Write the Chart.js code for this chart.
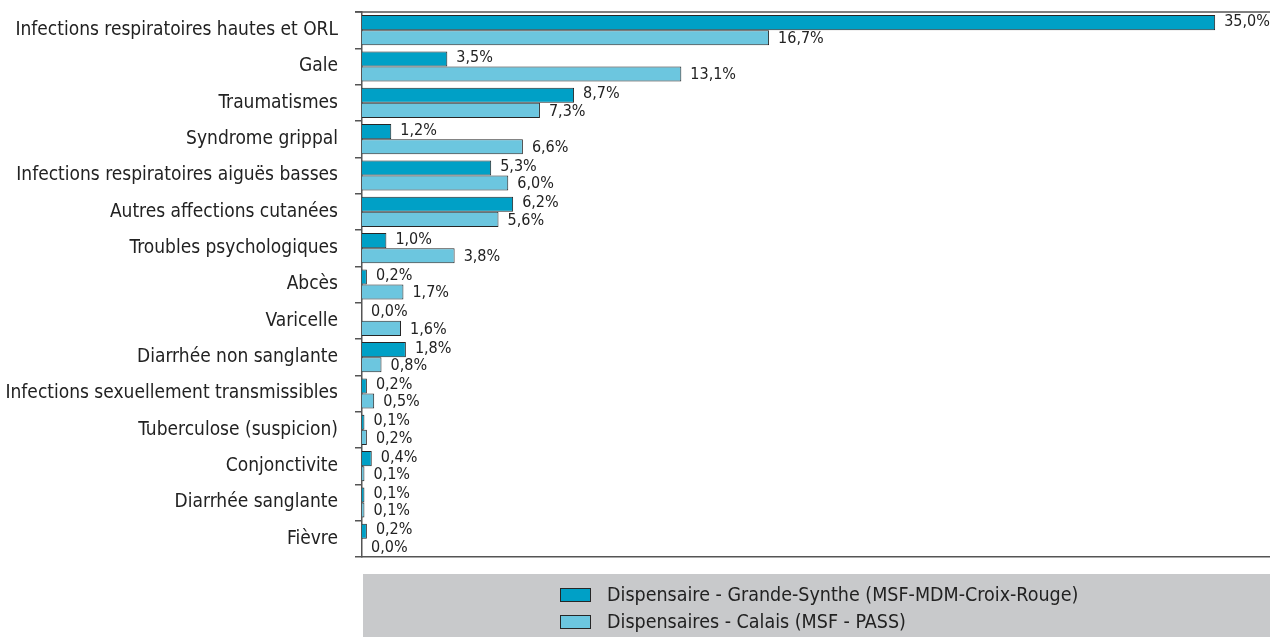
<!DOCTYPE html>
<html>
<head>
<meta charset="utf-8">
<script src="https://cdn.jsdelivr.net/npm/chart.js@4.4.1/dist/chart.umd.min.js"></script>
<style>
  html, body { margin: 0; padding: 0; background: #fff; }
  #wrap { width: 1270px; height: 637px; }
</style>
</head>
<body>
<div id="wrap"><canvas id="pathoChart" width="1270" height="637"></canvas></div>
<script>
const categories = [
    'Infections respiratoires hautes et ORL',
    'Gale',
    'Traumatismes',
    'Syndrome grippal',
    'Infections respiratoires aiguës basses',
    'Autres affections cutanées',
    'Troubles psychologiques',
    'Abcès',
    'Varicelle',
    'Diarrhée non sanglante',
    'Infections sexuellement transmissibles',
    'Tuberculose (suspicion)',
    'Conjonctivite',
    'Diarrhée sanglante',
    'Fièvre'
];
const grandeSynthe = [35.0, 3.5, 8.7, 1.2, 5.3, 6.2, 1.0, 0.2, 0.0, 1.8, 0.2, 0.1, 0.4, 0.1, 0.2];
const calais = [16.7, 13.1, 7.3, 6.6, 6.0, 5.6, 3.8, 1.7, 1.6, 0.8, 0.5, 0.2, 0.1, 0.1, 0.0];
const seriesLabels = [
    'Dispensaire - Grande-Synthe (MSF-MDM-Croix-Rouge)',
    'Dispensaires - Calais (MSF - PASS)'
];

const FONT = '"Liberation Sans Narrow", "DejaVu Sans Condensed", "Arial Narrow", sans-serif';
const DARK = '#00a0c6';
const LIGHT = '#6cc6df';
const EDGE = '#262626';
const AXIS = '#555555';

// value labels at the end of each bar, french decimal comma
const valueLabels = {
    id: 'valueLabels',
    afterDatasetsDraw(chart) {
        const ctx = chart.ctx;
        ctx.save();
        ctx.font = '16px ' + FONT;
        ctx.fillStyle = '#222';
        ctx.textBaseline = 'middle';
        ctx.textAlign = 'left';
        chart.data.datasets.forEach((ds, i) => {
            chart.getDatasetMeta(i).data.forEach((bar, j) => {
                const txt = ds.data[j].toFixed(1).replace('.', ',') + '%';
                ctx.fillText(txt, bar.x + 9, bar.y + (i === 0 ? -1 : 1));
            });
        });
        ctx.restore();
    }
};

// top frame line + grey legend box
const frameAndLegend = {
    id: 'frameAndLegend',
    afterDraw(chart) {
        const ctx = chart.ctx;
        const area = chart.chartArea;
        ctx.save();
        ctx.strokeStyle = AXIS;
        ctx.lineWidth = 1.5;
        ctx.beginPath();
        ctx.moveTo(area.left - 7, area.top);
        ctx.lineTo(area.right, area.top);
        ctx.stroke();

        ctx.fillStyle = '#c8c9cb';
        ctx.fillRect(area.left + 1, 574, area.right - area.left, 637 - 574);

        ctx.font = '19.5px ' + FONT;
        ctx.textBaseline = 'middle';
        ctx.textAlign = 'left';
        chart.data.datasets.forEach((ds, i) => {
            const y = 595 + i * 27;
            ctx.fillStyle = ds.backgroundColor;
            ctx.fillRect(560, y - 7, 31, 14);
            ctx.strokeStyle = EDGE;
            ctx.lineWidth = 1;
            ctx.strokeRect(560.5, y - 6.5, 30, 13);
            ctx.fillStyle = '#222';
            ctx.fillText(ds.label, 607, y + 1);
        });
        ctx.restore();
    }
};

new Chart(document.getElementById('pathoChart').getContext('2d'), {
    type: 'bar',
    data: {
        labels: categories,
        datasets: [
            { label: seriesLabels[0], data: grandeSynthe, backgroundColor: DARK, borderColor: EDGE, borderWidth: 1 },
            { label: seriesLabels[1], data: calais, backgroundColor: LIGHT, borderColor: EDGE, borderWidth: 1 }
        ]
    },
    options: {
        indexAxis: 'y',
        responsive: false,
        animation: false,
        maintainAspectRatio: false,
        layout: { padding: { top: 12, right: 0, bottom: 80, left: 0 } },
        datasets: { bar: { categoryPercentage: 0.83, barPercentage: 1.0 } },
        plugins: {
            legend: { display: false },
            tooltip: { enabled: false }
        },
        scales: {
            x: {
                min: 0,
                max: 37.25,
                ticks: { display: false },
                grid: { display: false },
                border: { display: true, color: AXIS, width: 1.5 },
                afterFit(scale) { scale.height = 0; }
            },
            y: {
                ticks: {
                    color: '#222',
                    font: { family: FONT, size: 19 },
                    padding: 17
                },
                grid: {
                    drawOnChartArea: false,
                    drawTicks: true,
                    tickLength: 7,
                    color: AXIS,
                    lineWidth: 1.5
                },
                border: { display: true, color: AXIS, width: 1.5 },
                afterFit(scale) {
                    scale.width = 362;
                    scale.paddingTop = 0;
                    scale.paddingBottom = 0;
                }
            }
        }
    },
    plugins: [valueLabels, frameAndLegend]
});
</script>
</body>
</html>
